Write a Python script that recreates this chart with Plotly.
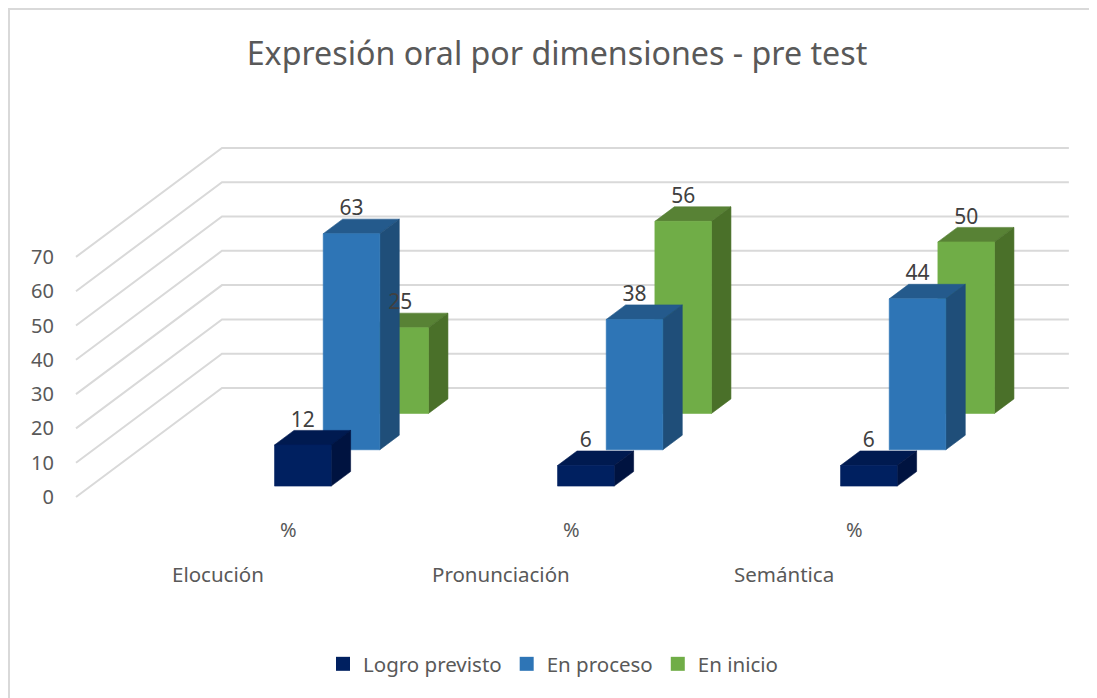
import plotly.graph_objects as go

TITLE = "Expresión oral por dimensiones - pre test"
DIMENSIONS = ["Elocución", "Pronunciación", "Semántica"]
UNIT_LABEL = "%"
LOGRO_PREVISTO = [12, 6, 6]
EN_PROCESO = [63, 38, 44]
EN_INICIO = [25, 56, 50]
Y_TICKS = [0, 10, 20, 30, 40, 50, 60, 70]

# The page body has an 8px margin, so the figure is 8px smaller each way and offset
PAGE = 8
W, H = 1097 - PAGE, 698 - PAGE
ML, MR, MT, MB = 47, 0, 112, 186
PX_PER_CAT, PX_PER_VAL = 141.5, 3.43
ORIGIN_PX = (76 - PAGE, 497 - PAGE)
DEPTH_CAT, DEPTH_VAL = 146 / PX_PER_CAT, 109 / PX_PER_VAL
N_ROWS, ROW_GAP = 3, 0.3
BAR_HALF = 0.2
GRID_END = 5.985
FONT = "Noto Sans"

x_range = [(ML - ORIGIN_PX[0]) / PX_PER_CAT, (W - MR - ORIGIN_PX[0]) / PX_PER_CAT]
y_range = [(ORIGIN_PX[1] - (H - MB)) / PX_PER_VAL, (ORIGIN_PX[1] - MT) / PX_PER_VAL]


def project(cat, val, depth):
    return cat + depth * DEPTH_CAT, val + depth * DEPTH_VAL


def paper(px, py):
    """Page pixel position to paper fraction."""
    return (px - PAGE - ML) / (W - ML - MR), 1 - (py - PAGE - MT) / (H - MT - MB)


SERIES = [
    ("Logro previsto", LOGRO_PREVISTO, "#002060", "#001A50", "#001340"),
    ("En proceso", EN_PROCESO, "#2E75B6", "#245A8C", "#1F4E79"),
    ("En inicio", EN_INICIO, "#70AD47", "#588235", "#4A7029"),
]

fig = go.Figure()

# Gridlines: left wall + back wall, from the y ticks
for v in Y_TICKS:
    p0 = project(0, v, 0)
    p1 = project(0, v, 1)
    p2 = project(GRID_END, v, 1)
    fig.add_trace(go.Scatter(x=[p0[0], p1[0], p2[0]], y=[p0[1], p1[1], p2[1]], mode="lines",
                             line=dict(color="#D9D9D9", width=2), hoverinfo="skip", showlegend=False))


def face(points, color):
    xs = [p[0] for p in points] + [points[0][0]]
    ys = [p[1] for p in points] + [points[0][1]]
    fig.add_trace(go.Scatter(x=xs, y=ys, mode="lines", fill="toself", fillcolor=color,
                             line=dict(color=color, width=0.6), hoverinfo="skip", showlegend=False))


# Painter's order: back row first
for row in reversed(range(N_ROWS)):
    name, values, front, top, side = SERIES[row]
    d0 = (row + ROW_GAP) / N_ROWS
    d1 = (row + 1 - ROW_GAP) / N_ROWS
    for i, val in enumerate(values):
        c = 2 * i + 1.5
        x0, x1 = c - BAR_HALF, c + BAR_HALF
        face([project(x0, val, d0), project(x1, val, d0), project(x1, val, d1), project(x0, val, d1)], top)
        face([project(x1, 0, d0), project(x1, 0, d1), project(x1, val, d1), project(x1, val, d0)], side)
        face([project(x0, 0, d0), project(x1, 0, d0), project(x1, val, d0), project(x0, val, d0)], front)

# Data labels sit on top of every bar
for row in range(N_ROWS):
    name, values, front, top, side = SERIES[row]
    d0 = (row + ROW_GAP) / N_ROWS
    lx = [project(2 * i + 1.5, v, d0)[0] for i, v in enumerate(values)]
    ly = [project(2 * i + 1.5, v, d0)[1] + 6.9 for i, v in enumerate(values)]
    fig.add_trace(go.Scatter(x=lx, y=ly, mode="text", text=[str(v) for v in values],
                             textposition="middle center", cliponaxis=False,
                             textfont=dict(family=FONT, size=21, color="#404040"),
                             hoverinfo="skip", showlegend=False))

# Legend entries
for name, values, front, top, side in SERIES:
    fig.add_trace(go.Scatter(x=[None], y=[None], mode="markers", name=name,
                             marker=dict(symbol="square", size=14, color=front)))

annotations = []
for i, dim in enumerate(DIMENSIONS):
    annotations.append(dict(text=dim, x=2 * i + 1, xref="x", y=paper(0, 574)[1], yref="paper",
                            yanchor="middle", xanchor="center", showarrow=False,
                            font=dict(family=FONT, size=20.5, color="#595959")))

bx0, by0 = paper(9, 9)
bx1, by1 = paper(1110, 720)
lx0, ly0 = paper(323, 664)

fig.update_layout(
    width=W, height=H,
    margin=dict(l=ML, r=MR, t=MT, b=MB, autoexpand=False),
    paper_bgcolor="white", plot_bgcolor="white",
    title=dict(text=TITLE, x=(557 - PAGE) / W, xref="container", xanchor="center",
               y=1 - (54 - PAGE) / H, yref="container", yanchor="middle",
               font=dict(family=FONT, size=32.2, color="#595959")),
    xaxis=dict(range=x_range, tickmode="array", tickvals=[1.5, 3.5, 5.5],
               ticktext=[UNIT_LABEL] * 3, showgrid=False, zeroline=False, showline=False,
               ticks="", ticklabelstandoff=4, tickfont=dict(family=FONT, size=20, color="#595959")),
    yaxis=dict(range=y_range, tickmode="array", tickvals=Y_TICKS, showgrid=False, zeroline=False,
               showline=False, ticks="", ticklabelposition="outside",
               tickfont=dict(family=FONT, size=20, color="#595959")),
    legend=dict(orientation="h", x=lx0, xanchor="left", y=ly0, yanchor="middle",
                font=dict(family=FONT, size=20.5, color="#595959"), bgcolor="rgba(0,0,0,0)"),
    annotations=annotations,
    shapes=[dict(type="rect", xref="paper", yref="paper", x0=bx0, x1=bx1, y0=by1, y1=by0,
                 line=dict(color="#D9D9D9", width=2), fillcolor="rgba(0,0,0,0)", layer="below")],
)

fig.write_html("out.html", default_width=W, default_height=H)
